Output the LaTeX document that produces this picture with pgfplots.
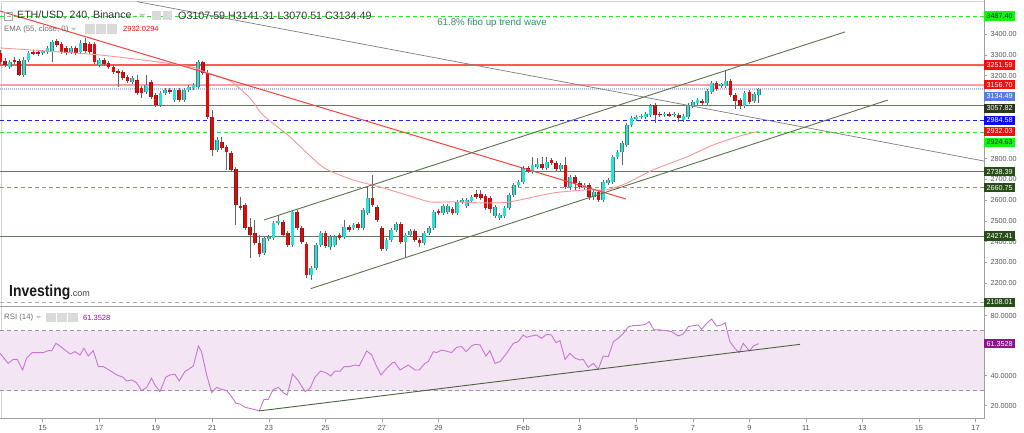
\documentclass[border=0pt]{standalone}
\usepackage{fontspec}
\setmainfont{Liberation Sans}
\usepackage{graphicx}
\usepackage{pgfplots}
\usepackage{pgfplotstable}
\pgfplotsset{compat=1.18}

\definecolor{upc}{RGB}{35,228,218}
\definecolor{upedge}{RGB}{95,112,112}
\definecolor{dnc}{RGB}{225,10,10}
\definecolor{dnedge}{RGB}{120,30,30}
\definecolor{wick}{RGB}{100,100,100}
\definecolor{emac}{RGB}{250,150,150}
\definecolor{tred}{RGB}{245,65,65}
\definecolor{tgray}{RGB}{125,125,125}
\definecolor{chan}{RGB}{90,115,75}
\definecolor{lgreen}{RGB}{40,232,40}
\definecolor{hred}{RGB}{250,90,90}
\definecolor{hpink}{RGB}{250,160,160}
\definecolor{hblue}{RGB}{175,195,240}
\definecolor{holive}{RGB}{105,120,90}
\definecolor{dblue}{RGB}{30,30,240}
\definecolor{hdash}{RGB}{140,152,130}
\definecolor{hdash2}{RGB}{165,188,155}
\definecolor{tagred}{RGB}{250,10,10}
\definecolor{taglime}{RGB}{20,245,20}
\definecolor{tagblue}{RGB}{88,122,228}
\definecolor{tagdblue}{RGB}{10,10,250}
\definecolor{tagolive}{RGB}{42,55,28}
\definecolor{tagdark}{RGB}{38,78,22}
\definecolor{tagpurple}{RGB}{140,20,140}
\definecolor{rsil}{RGB}{200,118,212}
\definecolor{rsiband}{RGB}{243,229,243}
\definecolor{axisc}{RGB}{160,160,160}
\definecolor{tickc}{RGB}{85,85,85}
\definecolor{hdr}{RGB}{55,55,55}
\definecolor{fibo}{RGB}{55,140,105}
\definecolor{iconbg}{RGB}{218,218,218}

\pgfplotstableread{
i o h l c
2 3242 3276 3233 3267
5 3204 3291 3194 3276
6 3276 3320 3267 3310
9 3310 3324 3300 3317
10 3315 3344 3305 3334
11 3315 3373 3267 3363
15 3315 3344 3305 3334
17 3315 3373 3305 3358
21 3252 3286 3242 3276
28 3170 3199 3160 3189
31 3122 3204 3112 3156
34 3059 3127 3050 3117
35 3117 3141 3108 3132
37 3083 3141 3074 3132
39 3083 3141 3074 3132
40 3132 3156 3122 3146
41 3141 3165 3132 3156
42 3146 3276 3136 3267
46 2842 2905 2833 2891
56 2346 2428 2336 2418
57 2414 2433 2404 2423
58 2418 2500 2409 2491
59 2491 2529 2481 2500
62 2385 2553 2375 2544
66 2240 2284 2216 2274
67 2274 2394 2264 2385
68 2385 2452 2375 2442
70 2375 2433 2361 2423
71 2385 2433 2375 2423
73 2423 2505 2413 2471
75 2467 2491 2457 2481
77 2467 2563 2457 2553
78 2539 2664 2529 2611
82 2365 2418 2356 2409
83 2409 2467 2399 2457
84 2457 2495 2447 2486
86 2399 2442 2327 2433
87 2433 2462 2423 2452
90 2394 2452 2385 2442
91 2442 2476 2433 2467
92 2467 2553 2457 2544
94 2539 2582 2529 2573
95 2544 2582 2534 2573
97 2539 2601 2529 2592
98 2592 2611 2582 2601
99 2573 2611 2563 2601
100 2597 2626 2587 2616
105 2524 2577 2515 2568
106 2515 2539 2505 2529
107 2524 2573 2515 2563
108 2563 2635 2553 2626
109 2626 2683 2616 2674
110 2674 2698 2664 2688
111 2688 2765 2679 2756
113 2736 2809 2727 2770
114 2761 2804 2751 2775
116 2756 2809 2746 2785
119 2751 2780 2741 2770
121 2664 2722 2650 2712
124 2659 2683 2650 2674
126 2616 2650 2601 2640
128 2601 2698 2592 2688
129 2683 2707 2674 2698
130 2688 2818 2679 2809
131 2809 2842 2799 2833
132 2833 2886 2770 2876
133 2867 2973 2857 2963
134 2963 3006 2953 2997
135 2992 3011 2982 3002
136 3002 3016 2992 3006
137 3002 3026 2992 3016
138 3011 3064 3002 3055
141 3011 3026 3002 3018
143 3011 3026 3002 3018
145 2987 3016 2977 3006
146 3002 3069 2992 3059
147 3055 3083 3045 3074
148 3069 3093 3059 3083
150 3069 3136 3059 3127
151 3122 3175 3112 3165
153 3151 3165 3141 3158
154 3151 3228 3141 3175
158 3055 3127 3045 3117
160 3079 3122 3069 3112
161 3107.59 3141.31 3070.51 3134.49
}\upc

\pgfplotstableread{
i o h l c
0 3310 3324 3257 3267
1 3271 3286 3242 3252
3 3276 3291 3257 3267
4 3271 3281 3199 3204
7 3315 3324 3300 3307
8 3315 3324 3295 3305
12 3368 3377 3339 3348
13 3353 3363 3305 3315
14 3334 3344 3300 3310
16 3334 3344 3300 3310
18 3358 3382 3310 3320
19 3353 3363 3305 3315
20 3353 3363 3257 3267
22 3276 3286 3247 3257
23 3262 3271 3233 3242
24 3242 3252 3209 3218
25 3223 3233 3146 3213
26 3218 3228 3180 3189
27 3194 3204 3165 3175
29 3180 3204 3108 3117
30 3141 3151 3093 3117
32 3170 3180 3088 3098
33 3108 3117 3050 3059
36 3132 3141 3112 3122
38 3132 3141 3074 3083
43 3267 3271 3204 3213
44 3213 3228 2992 3002
45 3002 3035 2814 2842
47 2881 2905 2842 2852
48 2857 2867 2746 2833
49 2828 2838 2736 2746
50 2751 2761 2481 2577
51 2573 2616 2553 2563
52 2577 2587 2457 2467
53 2471 2515 2322 2433
54 2442 2505 2385 2394
55 2394 2433 2327 2341
60 2495 2505 2423 2433
61 2442 2452 2375 2385
63 2544 2553 2457 2467
64 2467 2476 2389 2399
65 2389 2399 2226 2240
69 2442 2452 2370 2380
72 2433 2442 2409 2418
74 2471 2481 2447 2457
76 2486 2495 2457 2467
79 2611 2722 2568 2577
80 2568 2577 2495 2505
81 2467 2476 2356 2365
85 2486 2495 2389 2399
88 2452 2462 2399 2409
89 2409 2418 2375 2394
93 2548 2558 2529 2539
96 2558 2568 2529 2539
101 2630 2650 2606 2616
102 2630 2650 2601 2611
103 2621 2630 2553 2563
104 2611 2621 2539 2558
112 2756 2765 2732 2741
115 2775 2809 2746 2756
117 2794 2804 2770 2780
118 2780 2789 2741 2751
120 2770 2809 2655 2664
122 2712 2722 2650 2683
123 2683 2693 2655 2664
125 2674 2683 2601 2616
127 2640 2650 2592 2601
139 3059 3069 2973 3011
140 3016 3026 3002 3011
142 3016 3026 3002 3009
144 3011 3021 2977 2997
149 3079 3088 3059 3069
152 3165 3175 3127 3136
155 3175 3185 3098 3108
156 3108 3117 3040 3079
157 3083 3093 3040 3055
159 3122 3132 3064 3074
}\dnc

\pgfplotsset{
  wicks/.style={draw=none, mark=none, forget plot,
    error bars/.cd, y dir=both, y explicit, error mark=none,
    error bar style={line width=0.8pt, draw=wick}},
  bodies/.style 2 args={draw=none, mark=none, forget plot,
    error bars/.cd, y dir=both, y explicit, error mark=none,
    error bar style={line width=#2, draw=#1}},
  hl/.style={line width=#1, forget plot},
}
\tikzset{
  tag/.style={anchor=west, inner xsep=2.4pt, inner ysep=0pt, minimum height=9.4pt,
    font=\fontsize{7.2}{8}\selectfont},
}

\newcommand{\candles}[3]{%
  \addplot[wicks] table[x expr=13.5+\thisrow{i}/6, y expr=(\thisrow{h}+\thisrow{l})/2, y error expr=(\thisrow{h}-\thisrow{l})/2] {#1};
  \addplot[bodies={#3}{3.7pt}] table[x expr=13.5+\thisrow{i}/6, y expr=(\thisrow{o}+\thisrow{c})/2, y error expr=abs(\thisrow{c}-\thisrow{o})/2] {#1};
  \addplot[bodies={#2}{2.6pt}] table[x expr=13.5+\thisrow{i}/6, y expr=(\thisrow{o}+\thisrow{c})/2, y error expr=abs(\thisrow{c}-\thisrow{o})/2] {#1};
}

\begin{document}
\begin{tikzpicture}
\fill[white] (0,0) rectangle (1024pt,432pt);
\draw[gray!35, line width=0.8pt] (1pt,430.3pt) -- (984pt,430.3pt);
\draw[gray!35, line width=0.8pt] (1pt,430.3pt) -- (1pt,13.3pt);

% ---------------- price panel ----------------
\begin{axis}[
  at={(0pt,432pt)}, anchor=north west, scale only axis,
  width=984pt, height=306.5pt,
  xmin=13.49, xmax=48.30, ymin=2088, ymax=3565,
  clip=false,
  axis x line*=bottom, axis y line*=right,
  axis line style={-, draw=axisc, line width=1pt},
  xtick=\empty,
  ytick={2200,2300,2400,2500,2600,2700,2800,3200,3300,3400},
  yticklabels={2200.00,2300.00,2400.00,2500.00,2600.00,2700.00,2800.00,3200.00,3300.00,3400.00},
  yticklabel style={font=\fontsize{7.2}{8}\selectfont, text=tickc},
  tick align=outside, major tick length=3pt,
  tick style={draw=axisc, line width=0.6pt},
]
% horizontal levels
\addplot[hl=0.9pt, lgreen, dash pattern=on 4pt off 3pt] coordinates {(13.49,3487.40) (48.30,3487.40)};
\addplot[hl=1.2pt, hred] coordinates {(13.49,3251.59) (48.30,3251.59)};
\addplot[hl=2.2pt, hpink] coordinates {(13.49,3156.70) (48.30,3156.70)};
\addplot[hl=1.8pt, hblue, dash pattern=on 1pt off 1pt] coordinates {(13.49,3134.49) (48.30,3134.49)};
\addplot[hl=1pt, holive] coordinates {(13.49,3057.82) (48.30,3057.82)};
\addplot[hl=1pt, dblue, dash pattern=on 4pt off 3pt] coordinates {(13.49,2984.58) (48.30,2984.58)};
\addplot[hl=1pt, lgreen, dash pattern=on 4pt off 3pt] coordinates {(13.49,2924.63) (48.30,2924.63)};
\addplot[hl=1pt, holive] coordinates {(13.49,2738.39) (48.30,2738.39)};
\addplot[hl=1pt, hdash, dash pattern=on 4pt off 3pt] coordinates {(13.49,2660.75) (48.30,2660.75)};
\addplot[hl=1pt, holive] coordinates {(13.49,2427.41) (48.30,2427.41)};
\addplot[hl=1pt, hdash2, dash pattern=on 4pt off 3pt] coordinates {(13.49,2108.01) (48.30,2108.01)};

% candles
\candles{\upc}{upc}{upedge}
\candles{\dnc}{dnc}{dnedge}

% EMA 55
\addplot[emac, line width=0.9pt, smooth, tension=0.4, forget plot] coordinates {
(13.49,3334) (17.03,3300) (20.10,3247) (20.74,3218) (21.63,3175) (22.33,3093) (22.79,3011)
(23.75,2905) (24.91,2760) (25.98,2698) (26.93,2664) (28.10,2616) (28.70,2592) (29.51,2592)
(30.72,2587) (31.53,2592) (33.05,2635) (34.25,2650) (34.96,2650) (35.67,2683) (36.59,2746)
(37.79,2809) (38.71,2866) (39.67,2910) (40.33,2932)};

% trend lines
\addplot[tred, line width=1pt, forget plot] coordinates {(13.49,3512) (35.63,2606)};
\addplot[tgray, line width=0.7pt, forget plot] coordinates {(18.34,3557) (48.30,2789)};
\addplot[chan, line width=0.9pt, forget plot] coordinates {(22.83,2505) (43.38,3411)};
\addplot[chan, line width=0.9pt, forget plot] coordinates {(24.48,2174) (44.90,3083)};

% anchor points for the price tags
\coordinate (p1) at (axis cs:48.30,3487.40);
\coordinate (p2) at (axis cs:48.30,3251.59);
\coordinate (p3) at (axis cs:48.30,3156.70);
\coordinate (p4) at (axis cs:48.30,3134.49);
\coordinate (p5) at (axis cs:48.30,3057.82);
\coordinate (p6) at (axis cs:48.30,2984.58);
\coordinate (p7) at (axis cs:48.30,2932.03);
\coordinate (p8) at (axis cs:48.30,2924.63);
\coordinate (p9) at (axis cs:48.30,2738.39);
\coordinate (p10) at (axis cs:48.30,2660.75);
\coordinate (p11) at (axis cs:48.30,2427.41);
\coordinate (p12) at (axis cs:48.30,2108.01);
\end{axis}

% ---------------- RSI panel ----------------
\begin{axis}[
  at={(0pt,124.7pt)}, anchor=north west, scale only axis,
  width=984pt, height=111.4pt,
  xmin=13.49, xmax=48.30, ymin=11.3, ymax=85.6,
  clip=false,
  axis x line*=bottom, axis y line*=right,
  axis line style={-, draw=axisc, line width=1pt},
  xtick={15,17,19,21,23,25,27,29,32,34,36,38,40,42,44,46,48},
  xticklabels={15,17,19,21,23,25,27,29,Feb,3,5,7,9,11,13,15,17},
  ytick={20,40,80}, yticklabels={20.0000,40.0000,80.0000},
  yticklabel style={font=\fontsize{7.2}{8}\selectfont, text=tickc},
  xticklabel style={font=\fontsize{7.4}{8}\selectfont, text=tickc},
  tick align=outside, major tick length=3pt,
  tick style={draw=axisc, line width=0.6pt},
]
\addplot[draw=none, fill=rsiband, forget plot] coordinates {(13.49,30) (48.30,30) (48.30,70) (13.49,70)} -- cycle;
\addplot[hl=0.8pt, gray!80, dash pattern=on 4pt off 3pt] coordinates {(13.49,70) (48.30,70)};
\addplot[hl=0.8pt, gray!80, dash pattern=on 4pt off 3pt] coordinates {(13.49,30) (48.30,30)};
\addplot[rsil, line width=0.9pt, forget plot] coordinates {
(13.49,54.9) (13.78,48.2) (13.96,50.9) (14.10,50.9) (14.29,43.8) (14.43,51.6) (14.63,55.4)
(14.85,55.4) (15.02,55.4) (15.20,56.7) (15.32,56.7) (15.47,61.6) (15.67,58.9) (15.97,54.5)
(16.14,56.0) (16.32,53.8) (16.46,58.3) (16.61,53.1) (16.79,56.7) (16.97,46.0) (17.15,46.0)
(17.38,43.4) (17.62,40.5) (17.85,38.9) (17.97,36.5) (18.15,37.1) (18.32,35.4) (18.50,30.0)
(18.68,32.2) (18.85,38.3) (18.97,33.8) (19.15,29.4) (19.35,38.9) (19.50,40.5) (19.68,40.9)
(19.83,36.5) (20.03,42.7) (20.21,44.9) (20.33,46.5) (20.51,59.8) (20.62,56.0) (20.80,40.5)
(20.98,28.7) (21.15,32.2) (21.33,30.9) (21.51,30.0) (21.68,26.0) (21.84,21.6) (21.98,21.1)
(22.16,18.9) (22.45,17.6) (22.66,16.5) (22.83,24.2) (22.98,24.2) (23.16,30.9) (23.34,32.2)
(23.51,28.7) (23.65,27.1) (23.84,41.1) (24.04,36.7) (24.28,29.4) (24.46,31.6) (24.63,38.9)
(24.83,43.1) (25.02,42.0) (25.19,39.8) (25.34,43.1) (25.52,42.9) (25.66,46.0) (25.85,46.0)
(26.05,47.1) (26.20,46.5) (26.46,56.5) (26.64,53.8) (26.79,47.1) (26.97,40.5) (27.17,44.9)
(27.38,48.7) (27.46,48.7) (27.64,43.8) (27.93,47.1) (28.17,43.8) (28.32,43.8) (28.52,48.2)
(28.64,49.4) (28.82,56.0) (28.94,55.4) (29.11,57.1) (29.47,55.4) (29.64,58.9) (29.82,59.4)
(29.98,56.0) (30.17,59.8) (30.29,60.9) (30.47,60.5) (30.68,53.1) (30.82,56.7) (31.00,48.2)
(31.18,49.4) (31.41,54.9) (31.65,61.6) (31.82,62.7) (32.00,67.1) (32.12,65.6) (32.30,66.5)
(32.47,67.1) (32.65,64.9) (32.83,67.6) (33.00,67.1) (33.16,62.0) (33.30,63.4) (33.48,50.9)
(33.65,54.9) (33.83,51.6) (34.01,50.5) (34.12,50.9) (34.30,45.6) (34.48,48.2) (34.65,44.2)
(34.83,53.1) (35.01,52.7) (35.19,62.7) (35.36,64.9) (35.54,68.2) (35.72,72.7) (35.89,73.4)
(36.13,73.6) (36.31,74.2) (36.46,76.0) (36.62,70.5) (36.84,70.5) (37.07,70.0) (37.25,69.4)
(37.48,66.5) (37.66,67.8) (37.84,72.7) (38.02,73.4) (38.19,73.8) (38.31,70.9) (38.49,74.9)
(38.66,77.8) (38.84,73.1) (39.02,73.8) (39.14,75.4) (39.31,62.7) (39.49,58.2) (39.64,55.4)
(39.78,61.6) (40.00,56.5) (40.14,59.8) (40.33,61.35)};
\addplot[chan!85!black, line width=0.9pt, forget plot] coordinates {(22.66,16.5) (41.79,60.9)};
\coordinate (p13) at (axis cs:48.30,61.35);
\end{axis}

% price tags (drawn last so they sit above the tick labels)
\node[tag, fill=taglime, text=black!85] at (p1) {3487.40};
\node[tag, fill=tagred, text=white] at (p2) {3251.59};
\node[tag, fill=tagred, text=white] at (p3) {3156.70};
\node[tag, fill=tagblue, text=white, yshift=-7pt] at (p4) {3134.49};
\node[tag, fill=tagolive, text=white, yshift=-3pt] at (p5) {3057.82};
\node[tag, fill=tagdblue, text=white] at (p6) {2984.58};
\node[tag, fill=tagred, text=white] at (p7) {2932.03};
\node[tag, fill=taglime, text=black!85, yshift=-9.6pt] at (p8) {2924.63};
\node[tag, fill=tagdark, text=white] at (p9) {2738.39};
\node[tag, fill=tagdark, text=white] at (p10) {2660.75};
\node[tag, fill=tagdark, text=white] at (p11) {2427.41};
\node[tag, fill=tagdark, text=white] at (p12) {2108.01};
\node[tag, fill=tagpurple, text=white] at (p13) {61.3528};

% ---------------- header texts ----------------
\draw[gray!70, line width=0.6pt] (4.5pt,412pt) rectangle (12.5pt,420pt);
\draw[gray!70, line width=0.6pt] (6.5pt,416pt) -- (10.5pt,416pt);
\node[anchor=west, inner sep=0pt, font=\fontsize{10.6}{12}\selectfont, text=hdr] at (17pt,416.5pt) {ETH/USD, 240, Binance};
\fill[gray!45] (139pt,418pt) -- (145pt,418pt) -- (142pt,415pt) -- cycle;
\fill[iconbg] (152pt,411.5pt) rectangle (161pt,420.5pt);
\fill[iconbg] (163pt,411.5pt) rectangle (172pt,420.5pt);
\node[anchor=west, inner sep=0pt, font=\fontsize{10.7}{12}\selectfont, text=hdr] at (178pt,416.5pt) {O3107.59 H3141.31 L3070.51 C3134.49};

\node[anchor=west, inner sep=0pt, font=\fontsize{7.8}{9}\selectfont, text=gray!85!black] at (4pt,402.7pt) {EMA (55, close, 0)};
\fill[gray!45] (71pt,404pt) -- (76pt,404pt) -- (73.5pt,401.5pt) -- cycle;
\fill[iconbg] (85pt,398pt) rectangle (94.5pt,407.5pt);
\fill[iconbg] (96pt,398pt) rectangle (105.5pt,407.5pt);
\fill[iconbg] (107pt,398pt) rectangle (116.5pt,407.5pt);
\node[anchor=west, inner sep=0pt, font=\fontsize{7.5}{9}\selectfont, text=tagred] at (123pt,402.7pt) {2932.0294};

\node[font=\fontsize{9.7}{11}\selectfont, text=fibo, inner sep=0pt] at (492pt,409.5pt) {61.8\% fibo up trend wave};

\node[anchor=base west, inner sep=0pt, text=black!90] at (9pt,135.5pt) {{\fontsize{16}{16}\selectfont\bfseries\scalebox{0.87}[1]{Investing}}{\fontsize{9}{9}\selectfont\color{black!75}.com}};

\node[anchor=west, inner sep=0pt, font=\fontsize{7.8}{9}\selectfont, text=gray!85!black] at (4pt,114.5pt) {RSI (14)};
\fill[gray!45] (36pt,116pt) -- (41pt,116pt) -- (38.5pt,113.5pt) -- cycle;
\fill[iconbg] (46pt,110pt) rectangle (55.5pt,119.5pt);
\fill[iconbg] (57pt,110pt) rectangle (66.5pt,119.5pt);
\fill[iconbg] (68pt,110pt) rectangle (77.5pt,119.5pt);
\node[anchor=west, inner sep=0pt, font=\fontsize{7.5}{9}\selectfont, text=tagpurple] at (83pt,114.5pt) {61.3528};

\pgfresetboundingbox
\path[use as bounding box] (0,0) rectangle (1024pt,432pt);
\end{tikzpicture}
\end{document}
